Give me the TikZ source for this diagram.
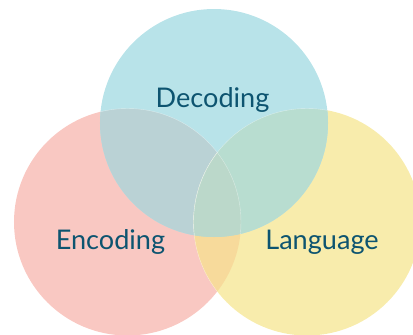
\documentclass[tikz,border=0pt]{standalone}
\usepackage{fontspec}
\setmainfont{Lato}
\definecolor{cEnc}{HTML}{F9C8C2}
\definecolor{cLang}{HTML}{F8ECAC}
\definecolor{cDec}{HTML}{B8E3E9}
\definecolor{cEncDec}{HTML}{BAD2D5}
\definecolor{cDecLang}{HTML}{B8DDD0}
\definecolor{cEncLang}{HTML}{F7DA9B}
\definecolor{cAll}{HTML}{BBD8CA}
\definecolor{txt}{HTML}{0D5470}
\begin{document}
\begin{tikzpicture}[x=1bp,y=-1bp,
  lbl/.style={font=\fontsize{27.2}{32}\selectfont, text=txt, anchor=base, inner sep=0pt},
  edge/.style={draw=white, draw opacity=0.45, line width=0.4bp}]
\useasboundingbox (0,0) rectangle (413,335);
\def\encp{(127.5,222) circle[radius=113.5bp]}
\def\langp{(307,222) circle[radius=113.5bp]}
\def\decp{(214,123) circle[radius=114bp]}
\fill[cEnc] \encp;
\fill[cLang] \langp;
\fill[cDec] \decp;
\begin{scope}\clip \encp; \fill[cEncDec] \decp; \fill[cEncLang] \langp; \end{scope}
\begin{scope}\clip \decp; \fill[cDecLang] \langp; \end{scope}
\begin{scope}\clip \encp; \clip \decp; \fill[cAll] \langp; \end{scope}
\begin{scope}\clip \decp; \path[edge] \encp; \path[edge] \langp; \end{scope}
\begin{scope}\clip \encp; \path[edge] \langp; \end{scope}
\node[lbl] (decoding) at (212.5,107.5) {Decoding};
\node[lbl] (encoding) at (110.5,249) {Encoding};
\node[lbl] (language) at (322,249) {Language};
\end{tikzpicture}
\end{document}
